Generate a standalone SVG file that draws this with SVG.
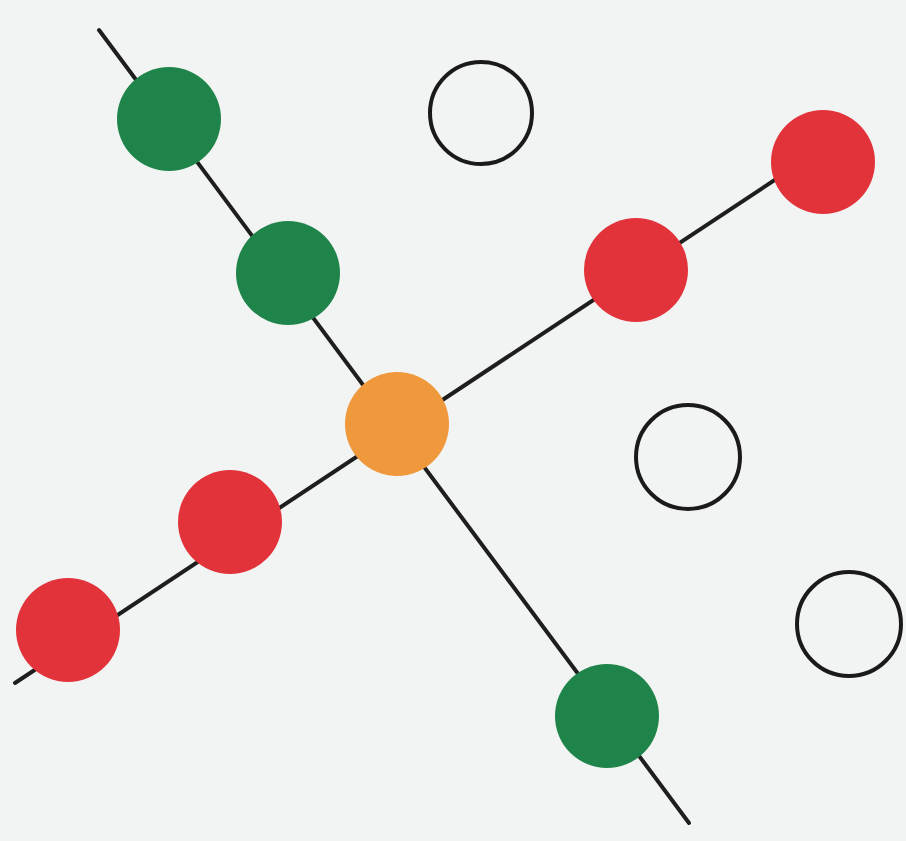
<svg xmlns="http://www.w3.org/2000/svg" width="906" height="841" viewBox="0 0 906 841">
  <style>
    .ln { stroke: #1e1e1e; stroke-width: 4; stroke-linecap: round; fill: none; }
    .g { fill: #1f8449; }
    .r { fill: #e2333a; }
    .o { fill: #f0983c; }
    .e { fill: none; stroke: #1a1a1a; stroke-width: 4; }
  </style>
  <rect x="0" y="0" width="906" height="841" fill="#f2f4f4"/>
  <g id="connectors">
    <line class="ln" x1="99" y1="30" x2="689" y2="823"/>
    <line class="ln" x1="15" y1="683" x2="823" y2="148"/>
  </g>
  <g id="green1"><circle class="g" cx="169" cy="119" r="52"/></g>
  <g id="green2"><circle class="g" cx="288" cy="273" r="52"/></g>
  <g id="center"><circle class="o" cx="397" cy="424" r="52"/></g>
  <g id="green3"><circle class="g" cx="607" cy="716" r="52"/></g>
  <g id="red1"><circle class="r" cx="823" cy="162" r="52"/></g>
  <g id="red2"><circle class="r" cx="636" cy="270" r="52"/></g>
  <g id="red3"><circle class="r" cx="230" cy="522" r="52"/></g>
  <g id="red4"><circle class="r" cx="68" cy="630" r="52"/></g>
  <g id="empty1"><circle class="e" cx="481" cy="113" r="51"/></g>
  <g id="empty2"><circle class="e" cx="688" cy="457" r="52"/></g>
  <g id="empty3"><circle class="e" cx="849" cy="624" r="52"/></g>
</svg>
